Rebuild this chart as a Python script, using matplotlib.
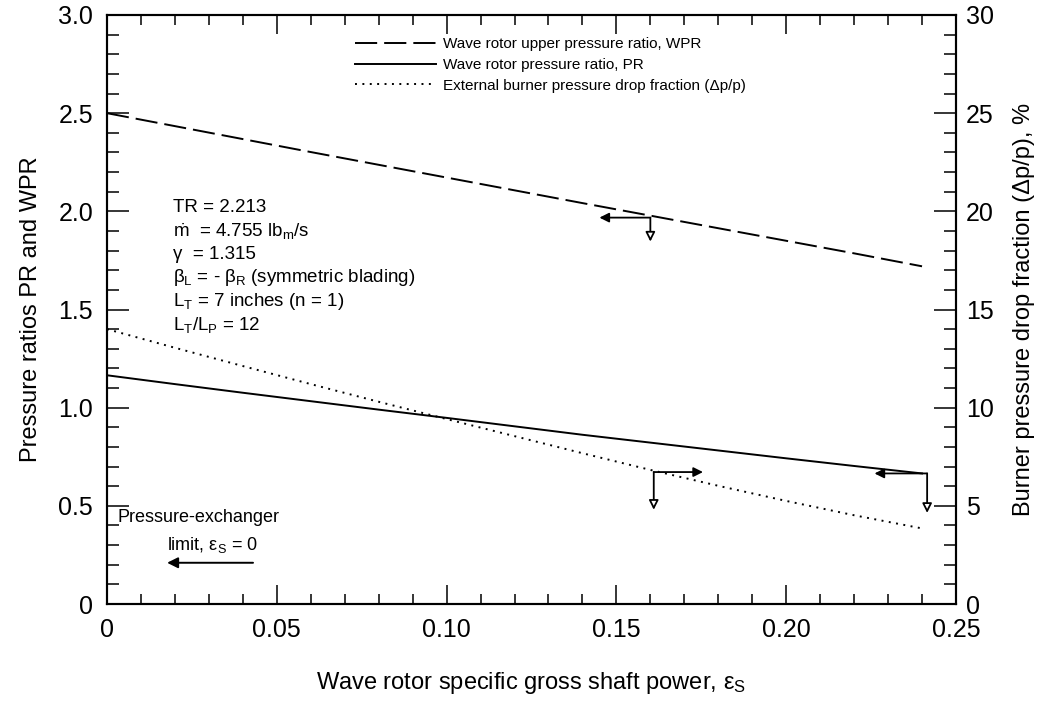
import numpy as np
import matplotlib
matplotlib.use("Agg")
import matplotlib.pyplot as plt
from matplotlib.ticker import MultipleLocator
from matplotlib.lines import Line2D

plt.rcParams['font.family'] = ['Liberation Sans', 'DejaVu Sans']
plt.rcParams['mathtext.fontset'] = 'custom'
plt.rcParams['mathtext.rm'] = 'Liberation Sans'
plt.rcParams['mathtext.it'] = 'Liberation Sans:italic'

# data
eps_s = [0.0, 0.02, 0.04, 0.06, 0.08, 0.10, 0.12, 0.14, 0.16, 0.18, 0.20, 0.22, 0.24]
wpr = [2.50, 2.434, 2.368, 2.302, 2.237, 2.172, 2.107, 2.042, 1.978, 1.914, 1.850, 1.786, 1.720]
pr = [1.165, 1.120, 1.076, 1.033, 0.990, 0.948, 0.905, 0.862, 0.822, 0.782, 0.742, 0.703, 0.665]
dp_p = [14.0, 13.05, 12.12, 11.2, 10.3, 9.42, 8.55, 7.68, 6.83, 6.02, 5.25, 4.52, 3.85]

x_ticks = [0, 0.05, 0.10, 0.15, 0.20, 0.25]
x_labels = ['0', '0.05', '0.10', '0.15', '0.20', '0.25']
yl_ticks = [0, 0.5, 1.0, 1.5, 2.0, 2.5, 3.0]
yl_labels = ['0', '0.5', '1.0', '1.5', '2.0', '2.5', '3.0']
yr_ticks = [0, 5, 10, 15, 20, 25, 30]
yr_labels = ['0', '5', '10', '15', '20', '25', '30']

legend_labels = ['Wave rotor upper pressure ratio, WPR',
                 'Wave rotor pressure ratio, PR',
                 'External burner pressure drop fraction (\u0394p/p)']

info_lines = ['TR = 2.213',
              r'$\dot{\mathrm{m}}$  = 4.755 lb$_\mathrm{m}$/s',
              '\u03b3  = 1.315',
              '\u03b2$_\\mathrm{L}$ = - \u03b2$_\\mathrm{R}$ (symmetric blading)',
              r'L$_\mathrm{T}$ = 7 inches (n = 1)',
              r'L$_\mathrm{T}$/L$_\mathrm{P}$ = 12']
info_y = [2.02, 1.895, 1.78, 1.665, 1.54, 1.42]

# axis-pointer arrows: (x, y, x_end of horizontal, y_end of vertical)
pointers = [(0.160, 1.968, 0.145, 1.846),
            (0.161, 0.672, 0.1755, 0.48),
            (0.2415, 0.665, 0.226, 0.464)]

fig = plt.figure(figsize=(10.51, 7.01), dpi=100)
ax = fig.add_axes([107/1051, 1-604/701, (956-107)/1051, (604-15)/701])
ax2 = ax.twinx()

lw = 1.4
dash = (0, (11.4, 3.6))
dots = (0, (1, 2.8))
ax.plot(eps_s, wpr, color='black', lw=lw, linestyle=dash)
ax.plot(eps_s, pr, color='black', lw=lw, linestyle='-')
ax2.plot(eps_s, dp_p, color='black', lw=1.4, linestyle=dots)

ax.set_xlim(0, 0.25)
ax.set_ylim(0, 3.0)
ax2.set_ylim(0, 30)

ax.set_xticks(x_ticks)
ax.set_xticklabels(x_labels)
ax.set_yticks(yl_ticks)
ax.set_yticklabels(yl_labels)
ax2.set_yticks(yr_ticks)
ax2.set_yticklabels(yr_labels)
ax.xaxis.set_minor_locator(MultipleLocator(0.01))
ax.yaxis.set_minor_locator(MultipleLocator(0.1))
ax2.yaxis.set_minor_locator(MultipleLocator(1))

ax.tick_params(axis='x', which='major', direction='in', length=14, width=1.1,
               top=True, labelsize=18, pad=10)
ax.tick_params(axis='x', which='minor', direction='in', length=7, width=1.1, top=True)
ax.tick_params(axis='y', which='major', direction='in', length=16, width=1.1,
               right=False, labelsize=18, pad=10)
ax.tick_params(axis='y', which='minor', direction='in', length=8.5, width=1.1, right=False)
ax2.tick_params(axis='y', which='major', direction='in', length=16, width=1.1,
                labelsize=18, pad=7)
ax2.tick_params(axis='y', which='minor', direction='in', length=8.5, width=1.1)

for a in (ax, ax2):
    for s in a.spines.values():
        s.set_linewidth(1.5)

ax.set_xlabel('Wave rotor specific gross shaft power, \u03b5$_\\mathrm{S}$', fontsize=17, labelpad=20)
ax.set_ylabel('Pressure ratios PR and WPR', fontsize=17, labelpad=12)
ax2.set_ylabel('Burner pressure drop fraction (\u0394p/p), %', fontsize=17, labelpad=14)

# legend
handles = [Line2D([], [], color='black', lw=lw, linestyle=dash),
           Line2D([], [], color='black', lw=lw, linestyle='-'),
           Line2D([], [], color='black', lw=1.4, linestyle=dots)]
ax.legend(handles, legend_labels, loc='upper left', frameon=False, fontsize=11,
          bbox_to_anchor=(355/1051, 1-37/701), bbox_transform=fig.transFigure,
          borderaxespad=0, borderpad=0, handlelength=5.3, handletextpad=0.45,
          labelspacing=0.45)

for txt, yy in zip(info_lines, info_y):
    ax.text(0.0195, yy, txt, fontsize=13.5, va='center', ha='left')

for (px, py, hx, vy) in pointers:
    ax.annotate('', xy=(hx, py), xytext=(px, py),
                arrowprops=dict(arrowstyle='-|>', color='black', lw=1.3,
                                mutation_scale=14, shrinkA=0, shrinkB=0))
    ax.annotate('', xy=(px, vy), xytext=(px, py),
                arrowprops=dict(arrowstyle='-|>', color='black', lw=1.3, fc='white',
                                mutation_scale=14, shrinkA=0, shrinkB=0))

ax.text(0.027, 0.44, 'Pressure-exchanger', fontsize=13, ha='center', va='center')
ax.text(0.031, 0.30, 'limit, \u03b5$_\\mathrm{S}$ = 0', fontsize=13, ha='center', va='center')
ax.annotate('', xy=(0.0177, 0.21), xytext=(0.043, 0.21),
            arrowprops=dict(arrowstyle='-|>', color='black', lw=1.4,
                            mutation_scale=16, shrinkA=0, shrinkB=0))

fig.savefig('out.png', dpi=100)
